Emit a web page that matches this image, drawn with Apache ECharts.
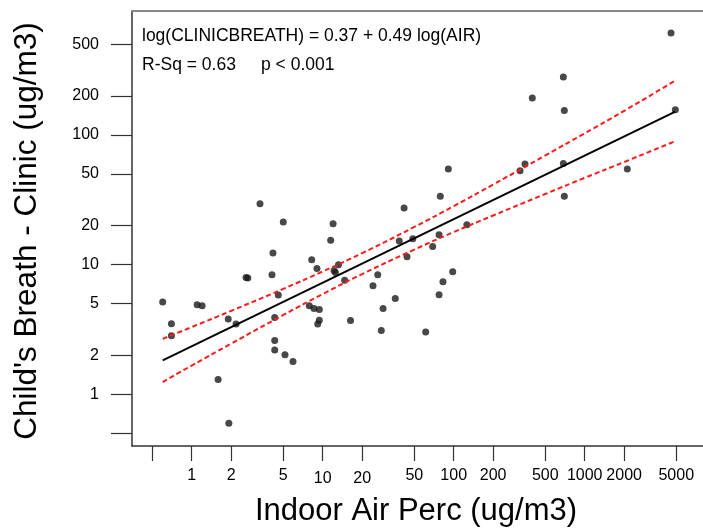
<!DOCTYPE html>
<html><head><meta charset="utf-8">
<script src="https://cdn.jsdelivr.net/npm/echarts@6/dist/echarts.min.js"></script>
<style>html,body{margin:0;padding:0;background:#fff}#c{width:703px;height:529px}</style>
</head><body><div id="c"></div>
<script>
// Indoor air concentration (x) and child's breath - clinic (y), ug/m3
const airValues = [0.60, 0.70, 0.70, 1.10, 1.20, 1.59, 1.92, 1.90, 2.18, 2.60,
  2.68, 3.32, 4.17, 4.10, 4.58, 4.30, 4.30, 4.30, 5.00, 5.15,
  5.93, 7.90, 8.24, 8.58, 9.42, 9.16, 9.42, 9.04, 11.5, 12.0,
  12.2, 12.5, 13.2, 14.7, 16.3, 24.2, 26.3, 28.0, 28.9, 35.8,
  38.4, 41.8, 44.0, 48.7, 61.1, 69.1, 77.3, 77.3, 82.8, 98.3,
  79.0, 91.0, 126, 321, 350, 398, 687, 699, 687, 699,
  2115, 4560, 4920];
const breathValues = [5.14, 3.50, 2.83, 4.90, 4.81, 1.30, 0.60, 3.80, 3.48, 7.96,
  7.87, 29.4, 12.3, 8.34, 5.82, 3.91, 2.60, 2.20, 21.3, 2.02,
  1.79, 4.81, 10.9, 4.59, 4.51, 3.48, 3.73, 9.33, 15.4, 20.6,
  9.01, 8.70, 9.96, 7.59, 3.71, 6.87, 8.34, 3.10, 4.59, 5.48,
  15.2, 27.3, 11.5, 15.8, 3.02, 13.8, 17.0, 5.85, 7.37, 8.80,
  33.7, 54.5, 20.3, 52.9, 59.6, 192, 279, 154, 60.2, 33.7,
  54.5, 609, 156];

// Fitted line: log(CLINICBREATH) = 0.37 + 0.49 log(AIR)
const fitIntercept = 0.37;
const fitSlope = 0.49;
const fitRange = [0.60, 4920];

// 95% confidence band
const bandX =     [0.60, 1,    2,    5,    10,   20,    50,   100,  200,  500,  1000,  2000,  4920];
const bandUpper = [2.68, 3.30, 4.40, 6.50, 8.85, 12.25, 19.5, 28.2, 41.4, 69.3, 102.8, 152.9, 262];
const bandLower = [1.245,1.667,2.46, 4.09, 5.93, 8.45,  13.05,17.8, 23.9, 35.0, 46.6,  61.7,  89.4];

const xTicks = [0.5, 1, 2, 5, 10, 20, 50, 100, 200, 500, 1000, 2000, 5000];
const xTickLabels = [1, 2, 5, 10, 20, 50, 100, 200, 500, 1000, 2000, 5000];
const yTicks = [0.5, 1, 2, 5, 10, 20, 50, 100, 200, 500];
const yTickLabels = [1, 2, 5, 10, 20, 50, 100, 200, 500];
const xRange = [0.35, 8000];
const yRange = [0.40, 900];

const lg = Math.log10;
const FONT = 'Liberation Sans, Arial, sans-serif';
const fmt = v => String(Math.round(Math.pow(10, v)));

const chart = echarts.init(document.getElementById('c'), null, {renderer: 'canvas'});
chart.setOption({
  animation: false,
  backgroundColor: '#fff',
  grid: {left: 132, right: 0, top: 11, bottom: 83, outerBoundsMode: 'none', containLabel: false},
  xAxis: [{
    type: 'value', min: lg(xRange[0]), max: lg(xRange[1]), position: 'bottom',
    axisLine: {show: true, onZero: false, lineStyle: {color: '#333', width: 1.5}},
    axisTick: {show: true, customValues: xTicks.map(lg), length: 15, lineStyle: {color: '#333', width: 1.2}},
    axisLabel: {show: true, customValues: xTickLabels.map(lg), margin: 22, fontSize: 16, color: '#000', fontFamily: FONT,
      formatter: v => { const s = fmt(v); return (s === '10' || s === '20') ? '{low|' + s + '}' : s; },
      rich: {low: {padding: [3, 0, 0, 0], fontSize: 16, color: '#000', fontFamily: FONT}}},
    splitLine: {show: false}
  }, {
    type: 'value', min: lg(xRange[0]), max: lg(xRange[1]), position: 'top',
    axisLine: {show: true, onZero: false, lineStyle: {color: '#888', width: 2}},
    axisTick: {show: false}, axisLabel: {show: false}, splitLine: {show: false}
  }],
  yAxis: {
    type: 'value', min: lg(yRange[0]), max: lg(yRange[1]), position: 'left',
    axisLine: {show: true, onZero: false, lineStyle: {color: '#333', width: 1.5}},
    axisTick: {show: true, customValues: yTicks.map(lg), length: 21, lineStyle: {color: '#333', width: 1.2}},
    axisLabel: {show: true, customValues: yTickLabels.map(lg), margin: 33, fontSize: 16, color: '#000', fontFamily: FONT, formatter: fmt},
    splitLine: {show: false}
  },
  graphic: [
    {type: 'text', left: 142, top: 27, style: {text: 'log(CLINICBREATH) = 0.37 + 0.49 log(AIR)', fontSize: 17.5, fontFamily: FONT, fill: '#000'}},
    {type: 'text', left: 142, top: 56, style: {text: 'R-Sq = 0.63', fontSize: 17.5, fontFamily: FONT, fill: '#000'}},
    {type: 'text', left: 261, top: 56, style: {text: 'p < 0.001', fontSize: 17.5, fontFamily: FONT, fill: '#000'}},
    {type: 'text', x: 416, y: 511, style: {text: 'Indoor Air Perc (ug/m3)', fontSize: 31, fontFamily: FONT, fill: '#000', align: 'center', verticalAlign: 'middle'}},
    {type: 'text', x: 27, y: 231, rotation: Math.PI / 2, style: {text: "Child's Breath - Clinic (ug/m3)", fontSize: 31.5, fontFamily: FONT, fill: '#000', align: 'center', verticalAlign: 'middle'}}
  ],
  series: [
    {type: 'line', name: 'upper', smooth: true, symbol: 'none', silent: true,
     data: bandX.map((x, i) => [lg(x), lg(bandUpper[i])]),
     lineStyle: {color: '#ff1a1a', width: 2, type: [5, 3]}},
    {type: 'line', name: 'lower', smooth: true, symbol: 'none', silent: true,
     data: bandX.map((x, i) => [lg(x), lg(bandLower[i])]),
     lineStyle: {color: '#ff1a1a', width: 2, type: [5, 3]}},
    {type: 'line', name: 'fit', symbol: 'none', silent: true,
     data: fitRange.map(x => [lg(x), fitIntercept + fitSlope * lg(x)]),
     lineStyle: {color: '#000', width: 2}},
    {type: 'scatter', name: 'obs', symbol: 'circle', symbolSize: 7,
     data: airValues.map((a, i) => [lg(a), lg(breathValues[i])]),
     itemStyle: {color: '#1a1a1a'}}
  ]
});
</script>
</body></html>
